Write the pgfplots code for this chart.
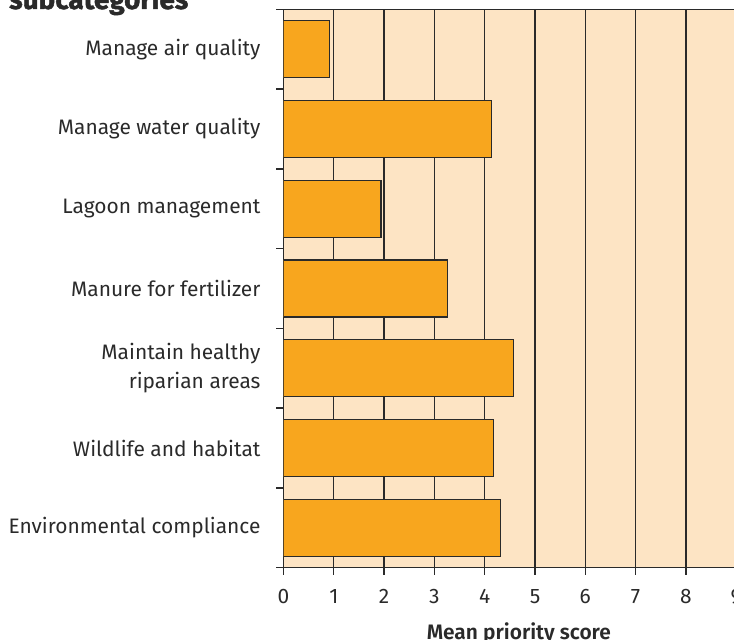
\documentclass[border=0pt]{standalone}
\usepackage{pgfplots}
\pgfplotsset{compat=1.18}
\usepackage{fontspec}
\setmainfont{Fira Sans}[BoldFont=* SemiBold]
\newfontfamily\titlefont{Fira Sans}[UprightFont=* Bold, FakeBold=1.5]
\definecolor{bgc}{HTML}{FDE4C4}
\definecolor{barc}{HTML}{F8A61E}
\definecolor{linec}{HTML}{2A2A2A}
\begin{document}
\begin{tikzpicture}
\begin{axis}[
  at={(0,0)}, anchor=south west,
  scale only axis,
  width=452.7bp, height=558.4bp,
  xmin=0, xmax=9,
  ymin=-0.5, ymax=6.5,
  y dir=reverse,
  xbar,
  bar width=0.715,
  axis background/.style={fill=bgc},
  axis line style={linec, line width=1.4bp},
  xtick={0,1,...,9},
  xmajorgrids,
  grid style={linec, line width=1.4bp},
  tick style={linec, line width=1.4bp},
  tick align=outside,
  major tick length=7bp,
  xtick pos=bottom,
  ytick pos=left,
  ytick={-0.5,0.5,...,6.5},
  yticklabels={},
  extra y ticks={0,1,2,3,4,5,6},
  extra y tick labels={Manage air quality, Manage water quality, Lagoon management, Manure for fertilizer, {Maintain healthy\\riparian areas}, Wildlife and habitat, Environmental compliance},
  extra y tick style={major tick length=0pt, yticklabel style={align=right, xshift=-19.5bp}},
  /pgf/number format/assume math mode=true,
  ticklabel style={font=\fontsize{21}{29}\selectfont, text=linec},
  xticklabel style={yshift=-11bp},
  xlabel={Mean priority score},
  xlabel style={font=\fontsize{21}{25}\selectfont\bfseries, text=linec, yshift=-11.5bp, xshift=9bp},
]
\addplot[draw=linec, line width=1.4bp, fill=barc] coordinates {
  (0.91,0) (4.14,1) (1.94,2) (3.26,3) (4.57,4) (4.17,5) (4.32,6)
};
\end{axis}
\node[anchor=base west, font=\fontsize{28}{32}\selectfont\titlefont, text=linec, inner sep=0pt] at (-274.5bp,558.7bp) {subcategories};
\pgfresetboundingbox
\useasboundingbox (-283.5bp,-72.3bp) rectangle (450.5bp,567.7bp);
\end{tikzpicture}
\end{document}
